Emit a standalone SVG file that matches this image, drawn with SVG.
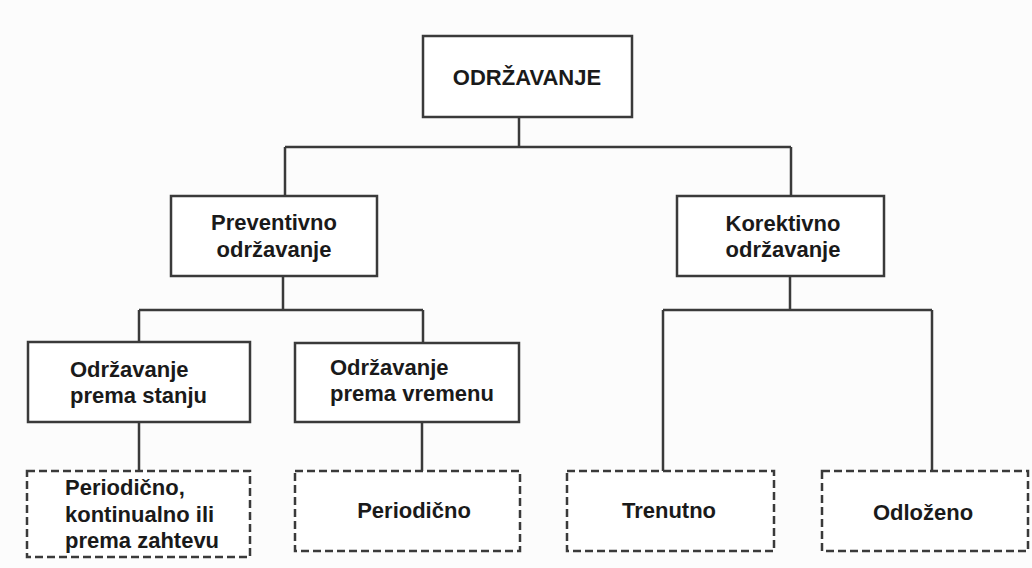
<svg xmlns="http://www.w3.org/2000/svg" width="1032" height="568" viewBox="0 0 1032 568">
<style>
.box{fill:#ffffff;stroke:#3a3a3a;stroke-width:2.5}
.dash{fill:#ffffff;stroke:#3a3a3a;stroke-width:2.5;stroke-dasharray:8 4}
.lbl{font-family:"Liberation Sans",Arial,sans-serif;font-weight:bold;font-size:22px;fill:#1a1a1a}
.c{text-anchor:middle}
.conn{fill:none;stroke:#3a3a3a;stroke-width:2.5}
</style>
<rect x="0" y="0" width="1032" height="568" fill="#fcfcfc"/>
<g id="connectors">
<path class="conn" d="M519 117V147M285 147H791M285 147V196M791 147V196"/>
<path class="conn" d="M283 276V310M139 310H423M139 310V342M423 310V343"/>
<path class="conn" d="M790 276V310M663 310H932M663 310V471M932 310V471"/>
<path class="conn" d="M139 422V471M422 422V471"/>
</g>
<g id="n-odrzavanje">
<rect class="box" x="423" y="36" width="209" height="81"/>
<text class="lbl c" x="527" y="85">ODRŽAVANJE</text>
</g>
<g id="n-preventivno">
<rect class="box" x="171" y="196" width="206" height="80"/>
<text class="lbl c" x="274" y="230">Preventivno</text>
<text class="lbl c" x="274" y="257">održavanje</text>
</g>
<g id="n-korektivno">
<rect class="box" x="677" y="196" width="207" height="80"/>
<text class="lbl c" x="783" y="231">Korektivno</text>
<text class="lbl c" x="783" y="257">održavanje</text>
</g>
<g id="n-stanje">
<rect class="box" x="28" y="342" width="222" height="80"/>
<text class="lbl" x="70" y="377">Održavanje</text>
<text class="lbl" x="70" y="403">prema stanju</text>
</g>
<g id="n-vreme">
<rect class="box" x="295" y="343" width="224" height="79"/>
<text class="lbl" x="330" y="375">Održavanje</text>
<text class="lbl" x="330" y="401">prema vremenu</text>
</g>
<g id="n-periodicno-kont">
<rect class="dash" x="27" y="471" width="223" height="86"/>
<text class="lbl" x="65" y="495">Periodično,</text>
<text class="lbl" x="65" y="522">kontinualno ili</text>
<text class="lbl" x="65" y="548">prema zahtevu</text>
</g>
<g id="n-periodicno">
<rect class="dash" x="295" y="471" width="225" height="80"/>
<text class="lbl c" x="414" y="518">Periodično</text>
</g>
<g id="n-trenutno">
<rect class="dash" x="567" y="471" width="207" height="80"/>
<text class="lbl c" x="669" y="518">Trenutno</text>
</g>
<g id="n-odlozeno">
<rect class="dash" x="822" y="471" width="206" height="80"/>
<text class="lbl c" x="923" y="520">Odloženo</text>
</g>
</svg>
